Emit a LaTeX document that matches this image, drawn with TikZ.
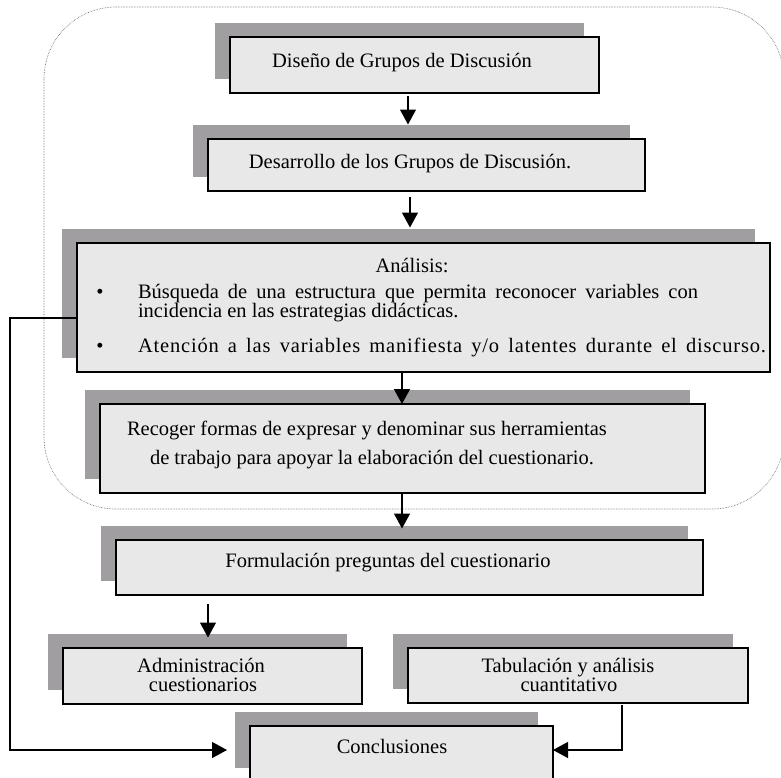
\documentclass[tikz,border=0pt]{standalone}
\usepackage{fontspec}
\setmainfont{Liberation Serif}
\usetikzlibrary{arrows.meta}
\definecolor{shadowgray}{RGB}{160,158,160}
\definecolor{boxfill}{RGB}{232,232,232}
\newcommand{\drawflowbox}[5]{%
  \node[shadowbox, minimum width={(#4)-(#2)}, minimum height={(#5)-(#3)}, anchor=north west] (#1s) at ({#2-15},{#3-14.5}) {};
  \node[mainbox, minimum width={(#4)-(#2)}, minimum height={(#5)-(#3)}, anchor=north west] (#1) at (#2,#3) {};
}
\tikzset{
  shadowbox/.style={fill=shadowgray, draw=none, inner sep=0, outer sep=0},
  mainbox/.style={fill=boxfill, draw=black, line width=1.3pt, inner sep=0, outer sep=0},
  txt/.style={inner sep=0, outer sep=0, font=\fontsize{20.5}{22}\selectfont},
  arr/.style={line width=1.3pt, -{Triangle[length=15pt,width=16pt]}},
  frame/.style={draw=black!65, line width=0.6pt, dash pattern=on 0.6pt off 1pt, rounded corners=72pt}
}
\begin{document}
\begin{tikzpicture}[x=1pt,y=-1pt]
\useasboundingbox (0,0) rectangle (781,777);
% dotted frame
\draw[frame] (44,7) rectangle (784,509);
% boxes
\drawflowbox{b1}{230}{37}{599}{93}
\drawflowbox{b2}{208}{139}{645}{191}
\drawflowbox{b3}{77}{243}{770}{372}
\drawflowbox{b4}{100}{404}{705}{493}
\drawflowbox{b5}{116}{540}{703}{595}
\drawflowbox{b6}{63}{648}{362}{704}
\drawflowbox{b7}{408}{648}{748}{703}
\drawflowbox{b8}{250}{726}{553}{782}
% texts
\node[txt, anchor=base] (t1) at (402,67) {Diseño de Grupos de Discusión};
\node[txt, anchor=base] (t2) at (410,168) {Desarrollo de los Grupos de Discusión.};
\node[txt, anchor=base] (t3a) at (412,272) {Análisis:};
\node[txt, anchor=base] (bul1) at (100,298) {•};
\node[txt, anchor=base west] (t3b) at (138,298) {\makebox[560pt][s]{Búsqueda de una estructura que permita reconocer variables con}};
\node[txt, anchor=base west] (t3c) at (138,317) {incidencia en las estrategias didácticas.};
\node[txt, anchor=base] (bul2) at (100,352) {•};
\node[txt, anchor=base west] (t3d) at (138,352) {\addfontfeature{LetterSpace=4}\makebox[628pt][s]{Atención a las variables manifiesta y/o latentes durante el discurso.}};
\node[txt, anchor=base west] (t4a) at (127,435) {Recoger formas de expresar y denominar sus herramientas};
\node[txt, anchor=base west] (t4b) at (150,464) {de trabajo para apoyar la elaboración del cuestionario.};
\node[txt, anchor=base] (t5) at (388,567) {Formulación preguntas del cuestionario};
\node[txt, anchor=base] (t6a) at (201,672) {Administración};
\node[txt, anchor=base] (t6b) at (203,691) {cuestionarios};
\node[txt, anchor=base] (t7a) at (568,672) {Tabulación y análisis};
\node[txt, anchor=base] (t7b) at (569,691) {cuantitativo};
\node[txt, anchor=base] (t8) at (392,753) {Conclusiones};
% arrows
\draw[arr] ([xshift=-6.5pt,yshift=-3pt]b1.south) coordinate (a1s) -- (a1s |- b2s.north);
\draw[arr] ([xshift=-16.5pt,yshift=-6pt]b2.south) coordinate (a2s) -- ([yshift=1pt]a2s |- b3s.north);
\draw[arr] ([xshift=-21.5pt]b3.south) coordinate (a3s) -- (a3s |- b4.north);
\draw[arr] ([xshift=-0.5pt]b4.south) coordinate (a4s) -- ([yshift=-3pt]a4s |- b5s.north);
\draw[arr] ([xshift=-201.5pt,yshift=-9pt]b5.south) coordinate (a5s) -- ([yshift=-4pt]a5s |- b6s.north);
% feedback connectors
\coordinate (lb) at (10,750);
\draw[arr] ([yshift=-10.5pt]b3.west) -| (lb) -- ([xshift=-8pt]b8s.west |- lb);
\draw[arr] ([xshift=44pt,yshift=-2pt]b7.south) |- (b8.east |- lb);
\end{tikzpicture}
\end{document}
